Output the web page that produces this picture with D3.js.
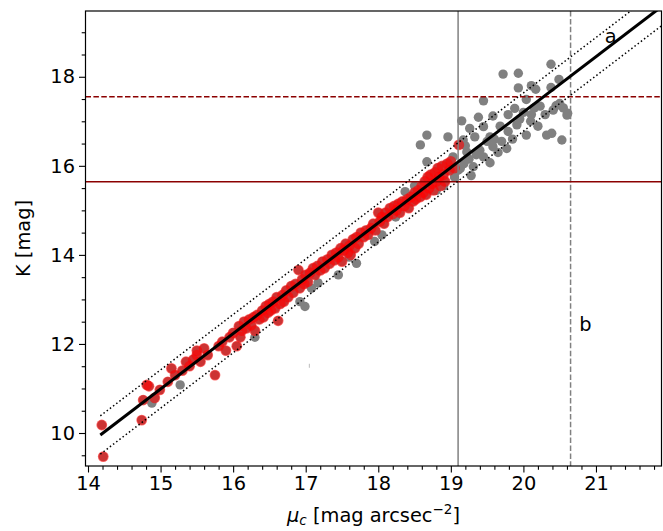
<!DOCTYPE html>
<html>
<head>
<meta charset="utf-8">
<script src="https://cdn.jsdelivr.net/npm/d3@7"></script>
<style>
html,body{margin:0;padding:0;background:#fff;}
svg text{font-family:"DejaVu Sans",sans-serif;}
</style>
</head>
<body>
<svg id="chart" width="663" height="531"></svg>
<script>
// ---------- data ----------
const redMu = [14.19,14.21,14.74,14.76,14.81,14.84,14.92,14.99,15.10,15.15,15.20,15.30,15.35,15.40,15.45,15.50,15.50,15.55,15.60,15.65,15.75,15.80,15.85,15.90,15.95,16.00,16.05,16.08,16.10,
16.12,16.15,16.18,16.22,16.25,16.28,16.30,16.33,16.36,16.40,16.42,16.45,16.48,16.50,16.52,16.55,16.58,16.60,16.62,16.65,16.68,16.70,16.73,16.76,16.80,16.83,16.86,16.90,16.92,16.95,16.98,17.00,
17.03,17.06,17.10,17.13,17.16,17.20,17.23,17.26,17.30,17.33,17.36,17.40,17.42,17.45,17.48,17.50,17.52,17.55,17.58,17.60,17.62,17.65,17.68,17.70,17.73,17.76,17.80,17.83,17.86,17.90,17.93,17.96,18.00,18.02,
18.05,18.08,18.10,18.13,18.16,18.20,18.22,18.25,18.28,18.30,18.33,18.36,18.40,18.42,18.45,18.48,18.50,18.52,18.55,18.58,18.60,18.62,18.64,18.66,18.68,18.70,18.72,18.74,18.76,18.78,18.80,18.82,18.84,18.86,18.88,18.90,18.92,18.95,18.98,19.00,19.05,19.11];
const redK = [10.18,9.47,10.29,10.74,11.08,11.05,10.79,10.97,11.15,11.45,11.30,11.40,11.60,11.50,11.65,11.75,11.85,11.60,11.90,11.75,11.30,11.95,12.05,11.85,12.15,12.25,11.95,12.40,12.15,
12.30,12.50,12.35,12.55,12.42,12.60,12.30,12.65,12.55,12.75,12.60,12.85,12.70,12.90,12.75,12.95,12.80,13.05,12.52,12.90,13.10,12.95,13.20,13.05,13.30,13.15,13.35,13.66,13.25,13.45,13.35,13.55,
13.40,13.60,13.70,13.55,13.75,13.65,13.85,13.70,13.90,13.80,14.00,13.88,14.05,13.95,14.15,13.85,14.10,14.25,14.05,14.20,14.00,14.35,14.15,14.40,14.25,14.50,14.40,14.55,14.45,14.60,14.70,14.55,14.95,14.75,
14.85,14.70,14.95,14.85,15.05,14.92,15.10,15.00,15.15,14.95,15.20,15.10,15.25,15.05,15.30,15.20,15.40,15.25,15.45,15.30,15.55,15.40,15.65,15.35,15.75,15.50,15.80,15.60,15.45,15.85,15.65,15.95,15.75,15.55,16.00,15.80,15.65,16.05,15.90,16.10,15.95,16.47];

const grayMu = [14.88,15.27,16.30,16.92,16.99,17.08,17.17,17.45,17.70,17.60,17.95,18.05,18.24,18.37,18.50,18.58,18.67,18.67,18.96,18.80,18.90,
19.03,19.05,19.10,19.13,19.15,19.17,19.18,19.20,19.22,19.25,19.26,19.28,19.31,19.33,19.35,19.38,19.40,19.45,19.45,19.45,19.50,19.54,19.54,19.58,19.58,19.60,19.65,19.68,19.70,
19.72,19.77,19.79,19.79,19.85,19.88,19.91,19.93,19.93,19.95,20.00,20.04,20.04,20.10,20.11,20.11,20.15,20.17,20.20,20.23,20.30,20.32,20.38,20.38,20.39,20.41,20.45,20.49,20.50,20.53,20.55,20.60,20.61];
const grayK = [10.67,11.08,12.15,12.95,12.84,13.25,13.37,13.55,13.81,13.95,14.30,14.45,14.85,15.42,15.55,16.47,16.69,16.09,16.65,15.45,15.55,
16.20,15.75,15.90,15.94,17.01,16.58,16.05,16.45,16.31,16.15,16.84,15.78,15.98,16.65,16.25,17.09,16.35,16.88,17.46,16.20,16.55,16.65,16.07,16.43,17.12,16.60,16.30,16.89,16.55,
18.06,16.39,16.77,17.15,16.60,17.29,16.92,18.08,17.75,17.05,17.20,16.69,17.49,17.00,17.80,17.15,17.30,17.72,16.89,17.34,17.15,16.69,18.28,17.76,16.73,17.25,17.35,17.94,17.40,16.58,17.30,17.14,17.18];

const speckMu = [17.05];
const speckK = [11.51];

const fitMu = [14.17, 21.95];
const fitK = [9.955, 19.633];
const fitUpperK = [10.385, 20.063];
const fitLowerK = [9.525, 19.203];

const muSel = 19.1, muLim = 20.65;
const kSel = 15.64, kLim = 17.55;

const xTicks = [14,15,16,17,18,19,20,21];
const yTicks = [10,12,14,16,18];
const annotations = [{t:"a", mu:21.12, k:18.75},{t:"b", mu:20.77, k:12.3}];

// ---------- layout ----------
const margin = {left:85.5, top:11, right:1.5, bottom:65};
const W = 663, H = 531;
const iw = W - margin.left - margin.right, ih = H - margin.top - margin.bottom;
const svg = d3.select("#chart");
const g = svg.append("g").attr("transform",`translate(${margin.left},${margin.top})`);

const x = d3.scaleLinear().domain([13.9655, 21.903]).range([0, iw]);
const y = d3.scaleLinear().domain([9.259, 19.477]).range([ih, 0]);

svg.append("defs").append("clipPath").attr("id","clip")
  .append("rect").attr("width",iw).attr("height",ih);

const plot = g.append("g").attr("clip-path","url(#clip)");

// gray points (all galaxies)
const grayPts = grayMu.map((m,i)=>[m,grayK[i]]).concat(redMu.map((m,i)=>[m,redK[i]]));
plot.append("g").selectAll("circle").data(grayPts).join("circle")
  .attr("cx",d=>x(d[0])).attr("cy",d=>y(d[1])).attr("r",4.7)
  .attr("fill","#808080");

// red selected points
plot.append("g").selectAll("circle").data(redMu.map((m,i)=>[m,redK[i]])).join("circle")
  .attr("cx",d=>x(d[0])).attr("cy",d=>y(d[1])).attr("r",5.4)
  .attr("fill","#ff0000").attr("fill-opacity",0.6);

// speck
plot.append("g").selectAll("rect").data(speckMu.map((m,i)=>[m,speckK[i]])).join("rect")
  .attr("x",d=>x(d[0])-0.5).attr("y",d=>y(d[1])-2).attr("width",1).attr("height",4)
  .attr("fill","#bbbbbb");

// reference lines
plot.append("line").attr("x1",x(muSel)).attr("x2",x(muSel)).attr("y1",0).attr("y2",ih)
  .attr("stroke","#808080").attr("stroke-width",1.5);
plot.append("line").attr("x1",x(muLim)).attr("x2",x(muLim)).attr("y1",0).attr("y2",ih)
  .attr("stroke","#808080").attr("stroke-width",1.5).attr("stroke-dasharray","5.5,2.4");
plot.append("line").attr("x1",0).attr("x2",iw).attr("y1",y(kSel)).attr("y2",y(kSel))
  .attr("stroke","#8b0000").attr("stroke-width",1.5);
plot.append("line").attr("x1",0).attr("x2",iw).attr("y1",y(kLim)).attr("y2",y(kLim))
  .attr("stroke","#8b0000").attr("stroke-width",1.5).attr("stroke-dasharray","5.5,2.4");

// fit lines
const line = d3.line().x(d=>x(d[0])).y(d=>y(d[1]));
plot.append("path").attr("d",line(fitMu.map((m,i)=>[m,fitUpperK[i]])))
  .attr("fill","none").attr("stroke","#000").attr("stroke-width",1.5).attr("stroke-dasharray","1.5,2.5");
plot.append("path").attr("d",line(fitMu.map((m,i)=>[m,fitLowerK[i]])))
  .attr("fill","none").attr("stroke","#000").attr("stroke-width",1.5).attr("stroke-dasharray","1.5,2.5");
plot.append("path").attr("d",line(fitMu.map((m,i)=>[m,fitK[i]])))
  .attr("fill","none").attr("stroke","#000").attr("stroke-width",3);

// annotations
g.selectAll("text.ann").data(annotations).join("text").attr("class","ann")
  .attr("x",d=>x(d.mu)).attr("y",d=>y(d.k)).attr("font-size","19.4px").attr("fill","#000")
  .text(d=>d.t);

// axes
const xMinor = d3.range(14,21.81,0.2).filter(v=>Math.abs(v-Math.round(v))>1e-6);
const yMinor = d3.range(9.5,19.41,0.5).filter(v=>Math.abs(v/2-Math.round(v/2))>1e-6);

const xAxis = g.append("g").attr("transform",`translate(0,${ih})`);
xAxis.call(d3.axisBottom(x).tickValues(xTicks).tickFormat(d3.format("d")).tickSize(6.5).tickPadding(4));
xAxis.append("g").call(d3.axisBottom(x).tickValues(xMinor).tickFormat("").tickSize(3.8));
const yAxis = g.append("g");
yAxis.call(d3.axisLeft(y).tickValues(yTicks).tickFormat(d3.format("d")).tickSize(6.5).tickPadding(4));
yAxis.append("g").call(d3.axisLeft(y).tickValues(yMinor).tickFormat("").tickSize(3.8));
g.selectAll(".domain").remove();
g.selectAll(".tick line").attr("stroke","#000").attr("stroke-width",1.1);
g.selectAll(".tick text").attr("font-size","19.4px").attr("fill","#000").attr("font-family","DejaVu Sans");

// frame
g.append("rect").attr("width",iw).attr("height",ih).attr("fill","none")
  .attr("stroke","#000").attr("stroke-width",1.2);

// axis labels
const xl = svg.append("text").attr("x", margin.left+iw/2).attr("y", 522)
  .attr("text-anchor","middle").attr("font-size","19.4px").attr("fill","#000");
xl.append("tspan").attr("font-style","italic").text("μ");
xl.append("tspan").attr("font-style","italic").attr("font-size","13.5px").attr("dy",3).text("c");
xl.append("tspan").attr("dy",-3).text(" [mag arcsec");
xl.append("tspan").attr("font-size","13.5px").attr("dy",-8).text("−2");
xl.append("tspan").attr("dy",8).text("]");

svg.append("text").attr("transform",`translate(30,${margin.top+ih/2}) rotate(-90)`)
  .attr("text-anchor","middle").attr("font-size","19.4px").attr("fill","#000").text("K [mag]");
</script>
</body>
</html>
